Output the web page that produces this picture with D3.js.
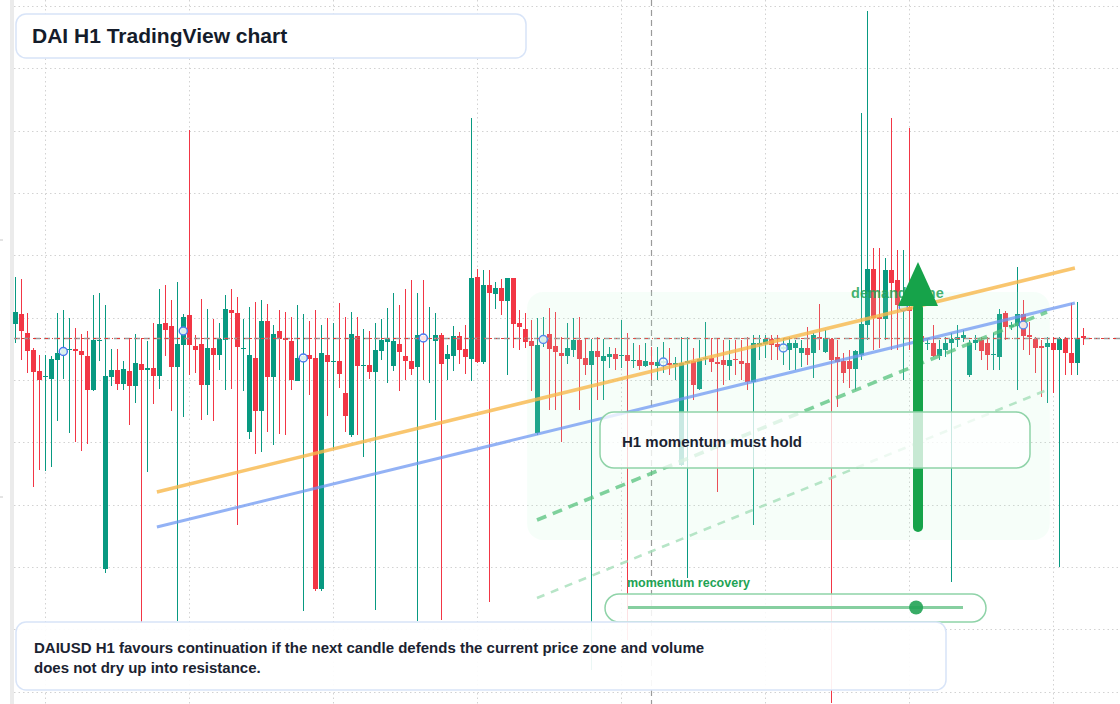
<!DOCTYPE html>
<html>
<head>
<meta charset="utf-8">
<script src="https://cdn.jsdelivr.net/npm/d3@7"></script>
<style>
  body { margin: 0; background: #fff; }
  svg { display: block; font-family: "Liberation Sans", Arial, sans-serif; }
</style>
</head>
<body>
<svg id="chart" width="1120" height="704"></svg>
<script>
// DAIUSD H1 candles (oldest -> newest)
const open = [
  1.00014, 1.00024, 1.00005, 0.99988, 0.99967, 0.99961, 0.99959, 0.99978, 0.99984, 0.99988,
  0.99989, 0.99987, 0.99982, 0.99948, 0.99997, 0.99769, 0.99961, 0.99968, 0.99954, 0.99967,
  0.99952, 0.99974, 0.99968, 0.99970, 0.99962, 1.00015, 1.00012, 0.99971, 0.99993, 1.00023,
  0.99992, 0.99994, 0.99953, 0.99990, 0.99983, 0.99998, 1.00028, 1.00025, 0.99989, 0.99906,
  0.99980, 0.99927, 1.00017, 0.99961, 1.00007, 1.00000, 0.99997, 0.99957, 0.99978, 0.99983,
  0.99980, 0.99749, 0.99983, 0.99976, 0.99977, 0.99945, 0.99903, 1.00002, 0.99972, 0.99973,
  0.99966, 0.99987, 0.99996, 0.99972, 0.99994, 0.99982, 0.99977, 0.99971, 1.00002, 0.99999,
  0.99997, 1.00003, 0.99979, 0.99982, 1.00002, 0.99989, 0.99979, 1.00061, 0.99976, 1.00053,
  1.00044, 1.00050, 1.00037, 1.00060, 1.00015, 1.00009, 0.99997, 0.99905, 0.99996, 1.00004,
  0.99992, 0.99985, 0.99982, 0.99988, 0.99998, 0.99980, 0.99973, 0.99987, 0.99977, 0.99981,
  0.99984, 0.99982, 0.99983, 0.99977, 0.99978, 0.99972, 0.99976, 0.99972, 0.99975, 0.99975,
  0.99973, 0.99873, 0.99975, 0.99977, 0.99949, 0.99979, 0.99980, 0.99976, 0.99978, 0.99972,
  0.99979, 0.99977, 0.99975, 0.99956, 0.99993, 0.99994, 0.99999, 0.99994, 0.99989, 0.99988,
  0.99990, 0.99985, 0.99990, 0.99985, 1.00001, 0.99986, 0.99999, 0.99981, 0.99977, 0.99977,
  0.99969, 0.99983, 1.00013, 1.00069, 1.00021, 1.00019, 1.00068, 1.00058, 1.00028, 1.00031,
  1.00018, 1.00002, 0.99994, 0.99995, 0.99982, 0.99988, 0.99995, 0.99998, 1.00000, 0.99963,
  0.99995, 0.99998, 0.99995, 0.99983, 0.99981, 1.00025, 1.00011, 1.00012, 1.00024, 1.00003,
  0.99999, 0.99992, 0.99991, 0.99995, 0.99988, 0.99999, 0.99985, 0.99975, 1.00002
];
const high = [
  1.00061, 1.00059, 1.00025, 0.99990, 0.99983, 0.99983, 0.99982, 1.00025, 1.00028, 1.00020,
  1.00010, 1.00004, 1.00007, 1.00043, 1.00045, 1.00033, 0.99989, 0.99989, 0.99977, 1.00000,
  1.00004, 1.00000, 0.99997, 1.00015, 1.00049, 1.00053, 1.00038, 1.00056, 1.00024, 1.00208,
  1.00003, 1.00039, 1.00029, 1.00019, 1.00015, 1.00043, 1.00049, 1.00041, 1.00019, 1.00031,
  1.00036, 1.00038, 1.00034, 1.00013, 1.00028, 1.00026, 1.00021, 1.00033, 1.00024, 1.00017,
  1.00028, 1.00013, 1.00020, 1.00015, 1.00035, 1.00021, 1.00026, 1.00021, 1.00009, 1.00007,
  1.00015, 1.00019, 1.00030, 1.00045, 1.00033, 1.00049, 1.00058, 1.00045, 1.00058, 1.00031,
  1.00025, 1.00005, 0.99993, 1.00012, 1.00006, 1.00013, 1.00220, 1.00069, 1.00068, 1.00068,
  1.00056, 1.00059, 1.00060, 1.00060, 1.00028, 1.00025, 1.00018, 1.00020, 1.00021, 1.00030,
  1.00026, 1.00001, 1.00015, 1.00020, 1.00021, 0.99999, 0.99999, 1.00001, 0.99999, 0.99991,
  0.99990, 1.00018, 1.00005, 0.99995, 0.99993, 0.99995, 0.99991, 0.99991, 0.99996, 0.99990,
  0.99981, 1.00001, 1.00001, 0.99990, 0.99998, 1.00016, 1.00000, 1.00000, 0.99998, 0.99998,
  0.99998, 0.99998, 1.00001, 1.00003, 1.00003, 1.00003, 1.00003, 1.00003, 1.00000, 1.00001,
  0.99998, 0.99998, 1.00011, 1.00005, 1.00034, 1.00008, 1.00000, 0.99998, 0.99985, 0.99988,
  0.99988, 1.00225, 1.00327, 1.00090, 1.00090, 1.00080, 1.00220, 1.00088, 1.00088, 1.00210,
  1.00028, 1.00008, 1.00000, 1.00013, 0.99998, 1.00001, 1.00005, 1.00013, 1.00008, 0.99998,
  1.00003, 1.00001, 1.00001, 1.00005, 1.00029, 1.00027, 1.00016, 1.00071, 1.00038, 1.00016,
  1.00001, 0.99998, 1.00001, 1.00001, 1.00001, 1.00001, 1.00035, 1.00036, 1.00010
];
const low = [
  0.99995, 0.99978, 0.99965, 0.99851, 0.99868, 0.99867, 0.99871, 0.99917, 0.99959, 0.99905,
  0.99896, 0.99887, 0.99894, 0.99947, 0.99977, 0.99765, 0.99952, 0.99948, 0.99948, 0.99913,
  0.99935, 0.99715, 0.99866, 0.99934, 0.99949, 0.99982, 0.99927, 0.99717, 0.99921, 0.99963,
  0.99965, 0.99918, 0.99923, 0.99917, 0.99968, 0.99948, 0.99949, 0.99813, 0.99947, 0.99899,
  0.99884, 0.99886, 0.99906, 0.99893, 0.99904, 0.99903, 0.99948, 0.99957, 0.99727, 0.99943,
  0.99747, 0.99747, 0.99922, 0.99889, 0.99950, 0.99906, 0.99901, 0.99903, 0.99881, 0.99959,
  0.99728, 0.99978, 0.99955, 0.99967, 0.99947, 0.99958, 0.99963, 0.99717, 0.99958, 0.99955,
  0.99918, 0.99718, 0.99958, 0.99967, 0.99974, 0.99964, 0.99957, 0.99975, 0.99974, 0.99736,
  1.00029, 1.00023, 0.99963, 0.99990, 0.99988, 0.99990, 0.99947, 0.99903, 0.99991, 0.99928,
  0.99928, 0.99896, 0.99974, 0.99981, 0.99928, 0.99963, 0.99668, 0.99938, 0.99938, 0.99970,
  0.99968, 0.99970, 0.99698, 0.99970, 0.99968, 0.99971, 0.99958, 0.99958, 0.99965, 0.99963,
  0.99958, 0.99872, 0.99760, 0.99938, 0.99948, 0.99973, 0.99966, 0.99846, 0.99953, 0.99958,
  0.99963, 0.99958, 0.99948, 0.99813, 0.99978, 0.99980, 0.99978, 0.99978, 0.99973, 0.99968,
  0.99968, 0.99971, 0.99973, 0.99960, 0.99988, 0.99985, 0.99635, 0.99931, 0.99955, 0.99950,
  0.99948, 0.99978, 0.99998, 0.99988, 0.99990, 0.99998, 0.99988, 0.99988, 0.99958, 0.99988,
  0.99988, 0.99990, 0.99988, 0.99981, 0.99978, 0.99981, 0.99756, 0.99991, 0.99996, 0.99961,
  0.99988, 0.99978, 0.99968, 0.99968, 0.99968, 0.99998, 1.00008, 0.99948, 0.99988, 0.99983,
  0.99965, 0.99941, 0.99935, 0.99945, 0.99771, 0.99963, 0.99963, 0.99963, 0.99993
];
const close = [
  1.00026, 1.00007, 0.99987, 0.99966, 0.99958, 0.99962, 0.99979, 0.99985, 0.99989, 0.99989,
  0.99987, 0.99983, 0.99948, 0.99998, 0.99998, 0.99962, 0.99968, 0.99954, 0.99969, 0.99952,
  0.99975, 0.99968, 0.99970, 0.99962, 1.00014, 1.00008, 0.99971, 0.99994, 1.00021, 0.99993,
  0.99988, 0.99953, 0.99990, 0.99983, 0.99999, 1.00029, 1.00025, 0.99991, 0.99990, 0.99983,
  0.99927, 1.00017, 0.99961, 1.00004, 0.99999, 0.99998, 0.99958, 0.99980, 0.99982, 0.99979,
  0.99749, 0.99985, 0.99976, 0.99977, 0.99964, 0.99922, 1.00004, 0.99972, 0.99973, 0.99966,
  0.99988, 0.99998, 0.99999, 0.99997, 0.99986, 0.99977, 0.99969, 1.00003, 0.99998, 1.00000,
  1.00003, 0.99974, 0.99984, 1.00002, 0.99988, 0.99981, 1.00060, 0.99976, 1.00053, 1.00045,
  1.00050, 1.00037, 1.00060, 1.00014, 1.00011, 0.99996, 0.99992, 0.99993, 1.00001, 0.99989,
  0.99986, 0.99982, 0.99990, 0.99998, 0.99979, 0.99973, 0.99987, 0.99981, 0.99982, 0.99984,
  0.99979, 0.99983, 0.99977, 0.99978, 0.99972, 0.99977, 0.99973, 0.99976, 0.99977, 0.99973,
  0.99975, 0.99975, 0.99977, 0.99953, 0.99979, 0.99980, 0.99976, 0.99974, 0.99973, 0.99978,
  0.99978, 0.99974, 0.99956, 0.99995, 0.99995, 0.99999, 0.99993, 0.99991, 0.99991, 0.99995,
  0.99995, 0.99990, 0.99983, 1.00003, 0.99999, 1.00000, 0.99978, 0.99976, 0.99965, 0.99969,
  0.99987, 1.00014, 1.00069, 1.00020, 1.00019, 1.00068, 1.00055, 1.00033, 1.00034, 1.00027,
  1.00000, 0.99996, 0.99995, 0.99982, 0.99989, 0.99995, 0.99999, 1.00001, 1.00003, 0.99995,
  0.99998, 0.99987, 0.99983, 0.99984, 1.00024, 1.00011, 1.00013, 1.00024, 1.00002, 1.00001,
  0.99990, 0.99990, 0.99995, 0.99988, 0.99999, 0.99985, 0.99975, 1.00000, 1.00000
];

// signal markers (candle index), day separators, price grid levels
const markerIdx = [8, 28, 48, 68, 88, 108, 128, 148, 168];
const dayIdx = [5, 29, 53, 77, 101, 125, 149, 173];
const gridPrices = [1.00332, 1.00270, 1.00207, 1.00145, 1.00083, 1.00020,
                    0.99958, 0.99896, 0.99833, 0.99771, 0.99709, 0.99646];
const cursorIdx = 106;

// drawings: [candle index, price]
const resistanceLine = [[23.6, 0.99846], [176.6, 1.00070]];
const supportLine = [[23.6, 0.99811], [176.6, 1.00035]];
const recoveryPath = [[86.95, 0.99818], [171.95, 1.00026]];
const recoveryFloor = [[86.95, 0.99740], [171.95, 0.99948]];
const demandZone = { from: 85.3, to: 172.4, top: 1.00046, bottom: 0.99798 };
const demandLabel = [139.3, 1.00040];
const arrowIdx = 150.45;
const arrowPrices = { base: 0.99811, head: 1.00032, tip: 1.00076 };
const recoveryLevel = 0.86;

const title = "DAI H1 TradingView chart";
const summary = [
  "DAIUSD H1 favours continuation if the next candle defends the current price zone and volume",
  "does not dry up into resistance."
];

const width = 1120, height = 704;
const upColor = "#089981", downColor = "#f23645";
const svg = d3.select("#chart");

const x = d3.scaleBand()
  .domain(d3.range(open.length))
  .range([12.3, 1086.3])
  .paddingInner(0.22)
  .paddingOuter(0.11);
const half = x.bandwidth() / 2;
const xi = d3.scaleLinear()
  .domain([0, open.length - 1])
  .range([x(0) + half, x(open.length - 1) + half]);
const y = d3.scaleLinear().domain([0.99634, 1.00338]).range([height, 0]);

// grid
const grid = svg.append("g").attr("stroke", "#d2d2d2").attr("stroke-dasharray", "1.5,3");
grid.selectAll("line.h").data(gridPrices).join("line")
  .attr("class", "h")
  .attr("x1", 14).attr("x2", width)
  .attr("y1", d => Math.round(y(d)) + 0.5).attr("y2", d => Math.round(y(d)) + 0.5);
grid.selectAll("line.v").data(dayIdx).join("line")
  .attr("class", "v")
  .attr("x1", d => Math.round(xi(d)) + 0.5).attr("x2", d => Math.round(xi(d)) + 0.5)
  .attr("y1", 0).attr("y2", height);

// left edge strip
svg.append("rect").attr("x", 10).attr("y", 0).attr("width", 4).attr("height", height).attr("fill", "#ebebeb");
svg.selectAll("line.tick").data([1.00098, 0.99841]).join("line")
  .attr("class", "tick")
  .attr("x1", 0).attr("x2", 3)
  .attr("y1", d => y(d)).attr("y2", d => y(d))
  .attr("stroke", "#c8c8c8");

// time cursor
svg.append("line")
  .attr("x1", Math.round(xi(cursorIdx)) + 0.5).attr("x2", Math.round(xi(cursorIdx)) + 0.5)
  .attr("y1", 0).attr("y2", height)
  .attr("stroke", "#9a9a9a").attr("stroke-width", 1.2).attr("stroke-dasharray", "6,4");

// candles
const candles = d3.range(open.length).map(i => ({
  i, o: open[i], h: high[i], l: low[i], c: close[i]
}));
const cg = svg.append("g");
const cx = d => Math.round(x(d.i) + half - 0.5);
cg.selectAll("line.wick").data(candles).join("line")
  .attr("class", "wick")
  .attr("x1", d => cx(d) + 0.5).attr("x2", d => cx(d) + 0.5)
  .attr("y1", d => y(d.h)).attr("y2", d => y(d.l))
  .attr("stroke", d => d.c >= d.o ? upColor : downColor)
  .attr("stroke-width", 1);
cg.selectAll("rect.body").data(candles).join("rect")
  .attr("class", "body")
  .attr("x", d => cx(d) - 2)
  .attr("width", 5)
  .attr("y", d => y(Math.max(d.o, d.c)))
  .attr("height", d => Math.max(1.2, Math.abs(y(d.o) - y(d.c))))
  .attr("fill", d => d.c >= d.o ? upColor : downColor)
  .attr("shape-rendering", "crispEdges");

// last price line
const lastY = Math.round(y(close[close.length - 1])) + 0.5;
svg.append("line")
  .attr("x1", 14).attr("x2", width).attr("y1", lastY).attr("y2", lastY)
  .attr("stroke", "#9a9a9a").attr("stroke-width", 1.3).attr("stroke-dasharray", "6,4");
svg.append("line")
  .attr("x1", 14).attr("x2", width).attr("y1", lastY).attr("y2", lastY)
  .attr("stroke", "#e53935").attr("stroke-width", 1.2)
  .attr("stroke-dasharray", "3,4,1,4").attr("stroke-dashoffset", -7);

// signal markers at body midpoints
svg.selectAll("circle.sig").data(markerIdx).join("circle")
  .attr("class", "sig")
  .attr("cx", d => xi(d))
  .attr("cy", d => y((open[d] + close[d]) / 2))
  .attr("r", 4)
  .attr("fill", "#fff")
  .attr("fill-opacity", 0.85)
  .attr("stroke", "#4a78ee")
  .attr("stroke-width", 1.5);

// demand zone shading
svg.append("rect")
  .attr("x", xi(demandZone.from))
  .attr("y", y(demandZone.top))
  .attr("width", xi(demandZone.to) - xi(demandZone.from))
  .attr("height", y(demandZone.bottom) - y(demandZone.top))
  .attr("rx", 16)
  .attr("fill", "#bbf7d0")
  .attr("fill-opacity", 0.13);

// trend lines
const seg = d3.line().x(d => xi(d[0])).y(d => y(d[1]));
svg.append("path").attr("d", seg(resistanceLine))
  .attr("fill", "none").attr("stroke", "#f7b84b").attr("stroke-opacity", 0.8).attr("stroke-width", 3.5);
svg.append("path").attr("d", seg(supportLine))
  .attr("fill", "none").attr("stroke", "#6f98f2").attr("stroke-opacity", 0.75).attr("stroke-width", 3);
svg.append("path").attr("d", seg(recoveryPath))
  .attr("fill", "none").attr("stroke", "#55c27c").attr("stroke-opacity", 0.75)
  .attr("stroke-width", 3.6).attr("stroke-dasharray", "10,7");
svg.append("path").attr("d", seg(recoveryFloor))
  .attr("fill", "none").attr("stroke", "#a5dfb9").attr("stroke-opacity", 0.8)
  .attr("stroke-width", 2.6).attr("stroke-dasharray", "8,7");

// demand zone label
svg.append("text")
  .attr("x", xi(demandLabel[0])).attr("y", y(demandLabel[1]))
  .attr("font-size", 14.5).attr("font-weight", 700)
  .attr("fill", "#22a355").attr("fill-opacity", 0.85)
  .text("demand zone");

// momentum arrow
const ax = xi(arrowIdx);
svg.append("line")
  .attr("x1", ax).attr("x2", ax)
  .attr("y1", y(arrowPrices.base)).attr("y2", y(arrowPrices.head) + 2)
  .attr("stroke", "#16a34a").attr("stroke-width", 10).attr("stroke-linecap", "round");
svg.append("path")
  .attr("d", `M${ax},${y(arrowPrices.tip)} L${ax + 20},${y(arrowPrices.head)} L${ax - 20},${y(arrowPrices.head)} Z`)
  .attr("fill", "#16a34a");

// callout box
svg.append("rect")
  .attr("x", 600).attr("y", 412).attr("width", 430).attr("height", 56).attr("rx", 14)
  .attr("fill", "#fff").attr("fill-opacity", 0.76)
  .attr("stroke", "#8fd3a8").attr("stroke-width", 1.5);
svg.append("text")
  .attr("x", 622).attr("y", 447)
  .attr("font-size", 15).attr("font-weight", 700).attr("fill", "#1b2331")
  .text("H1 momentum must hold");

// momentum recovery gauge
const gauge = d3.scaleLinear().domain([0, 1]).range([628, 963]);
svg.append("text")
  .attr("x", 627).attr("y", 587)
  .attr("font-size", 12.5).attr("font-weight", 700).attr("fill", "#22a355")
  .text("momentum recovery");
svg.append("rect")
  .attr("x", 605).attr("y", 594).attr("width", 381).attr("height", 28).attr("rx", 14)
  .attr("fill", "#fff").attr("fill-opacity", 0.85)
  .attr("stroke", "#8fd3a8").attr("stroke-width", 1.5);
svg.append("line")
  .attr("x1", gauge(0)).attr("x2", gauge(1)).attr("y1", 607.5).attr("y2", 607.5)
  .attr("stroke", "#86cfa0").attr("stroke-width", 3);
svg.append("circle")
  .attr("cx", gauge(recoveryLevel)).attr("cy", 607.5).attr("r", 7)
  .attr("fill", "#22a355").attr("fill-opacity", 0.9);

// summary box
svg.append("rect")
  .attr("x", 16).attr("y", 622).attr("width", 930).attr("height", 68).attr("rx", 10)
  .attr("fill", "#fff").attr("fill-opacity", 0.92)
  .attr("stroke", "#d8e4f8").attr("stroke-width", 1.5);
svg.selectAll("text.summary").data(summary).join("text")
  .attr("class", "summary")
  .attr("x", 34).attr("y", (d, i) => 653 + i * 20)
  .attr("font-size", 15).attr("font-weight", 700).attr("fill", "#1b2331")
  .text(d => d);

// title box
svg.append("rect")
  .attr("x", 16).attr("y", 14).attr("width", 510).attr("height", 44).attr("rx", 10)
  .attr("fill", "#fff")
  .attr("stroke", "#d8e4f8").attr("stroke-width", 1.5);
svg.append("text")
  .attr("x", 32).attr("y", 43)
  .attr("font-size", 21).attr("font-weight", 700).attr("fill", "#141c2b")
  .text(title);
</script>
</body>
</html>
